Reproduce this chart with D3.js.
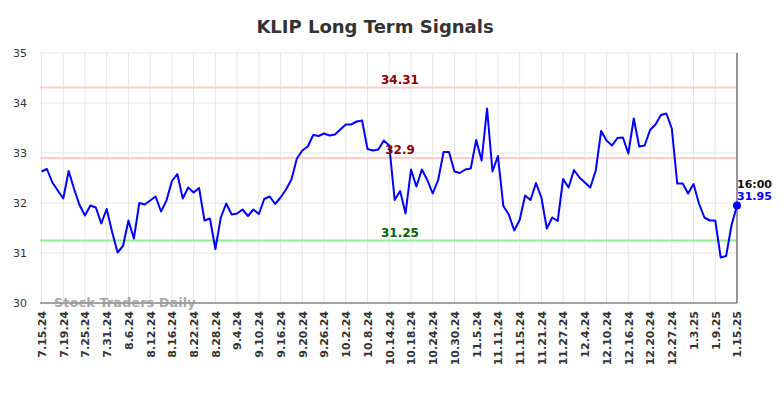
<!DOCTYPE html>
<html>
<head>
<meta charset="utf-8">
<script src="https://cdn.jsdelivr.net/npm/d3@7"></script>
<style>
  body { margin: 0; background: #fff; }
  svg { display: block; font-family: 'DejaVu Sans', sans-serif; }
</style>
</head>
<body>
<svg id="chart" width="784" height="398"></svg>
<script>
const dates = [
  '7.15.24', '7.16.24', '7.17.24', '7.18.24', '7.19.24', '7.22.24', '7.23.24', '7.24.24', '7.25.24', '7.26.24',
  '7.29.24', '7.30.24', '7.31.24',
  '8.1.24', '8.2.24', '8.5.24', '8.6.24', '8.7.24', '8.8.24', '8.9.24', '8.12.24', '8.13.24', '8.14.24',
  '8.15.24', '8.16.24', '8.19.24', '8.20.24', '8.21.24', '8.22.24', '8.23.24', '8.26.24', '8.27.24', '8.28.24',
  '8.29.24', '8.30.24',
  '9.3.24', '9.4.24', '9.5.24', '9.6.24', '9.9.24', '9.10.24', '9.11.24', '9.12.24', '9.13.24', '9.16.24',
  '9.17.24', '9.18.24', '9.19.24', '9.20.24', '9.23.24', '9.24.24', '9.25.24', '9.26.24', '9.27.24', '9.30.24',
  '10.1.24', '10.2.24', '10.3.24', '10.4.24', '10.7.24', '10.8.24', '10.9.24', '10.10.24', '10.11.24', '10.14.24',
  '10.15.24', '10.16.24', '10.17.24', '10.18.24', '10.21.24', '10.22.24', '10.23.24', '10.24.24', '10.25.24',
  '10.28.24', '10.29.24', '10.30.24', '10.31.24',
  '11.1.24', '11.4.24', '11.5.24', '11.6.24', '11.7.24', '11.8.24', '11.11.24', '11.12.24', '11.13.24', '11.14.24',
  '11.15.24', '11.18.24', '11.19.24', '11.20.24', '11.21.24', '11.22.24', '11.25.24', '11.26.24', '11.27.24', '11.29.24',
  '12.2.24', '12.3.24', '12.4.24', '12.5.24', '12.6.24', '12.9.24', '12.10.24', '12.11.24', '12.12.24', '12.13.24',
  '12.16.24', '12.17.24', '12.18.24', '12.19.24', '12.20.24', '12.23.24', '12.24.24', '12.26.24', '12.27.24',
  '12.30.24', '12.31.24',
  '1.2.25', '1.3.25', '1.6.25', '1.7.25', '1.8.25', '1.9.25', '1.10.25', '1.13.25', '1.14.25', '1.15.25'
];

const prices = [
  32.63, 32.68, 32.41, 32.25, 32.09, 32.64, 32.28, 31.96, 31.75, 31.95,
  31.91, 31.59, 31.88, 31.42, 31.01, 31.14, 31.65, 31.29, 32.0, 31.97,
  32.05, 32.13, 31.83, 32.05, 32.44, 32.58, 32.09, 32.31, 32.21, 32.3,
  31.65, 31.69, 31.08, 31.71, 31.99, 31.77, 31.79, 31.87, 31.74, 31.87,
  31.78, 32.08, 32.13, 31.98, 32.11, 32.27, 32.47, 32.89, 33.05, 33.13,
  33.36, 33.34, 33.39, 33.35, 33.37, 33.47, 33.57, 33.57, 33.63, 33.65,
  33.08, 33.05, 33.07, 33.25, 33.15, 32.06, 32.24, 31.79, 32.67, 32.33,
  32.67, 32.46, 32.19, 32.46, 33.02, 33.02, 32.63, 32.6, 32.67, 32.69,
  33.26, 32.85, 33.89, 32.63, 32.94, 31.94, 31.77, 31.45, 31.66, 32.15,
  32.06, 32.4, 32.11, 31.49, 31.71, 31.64, 32.48, 32.31, 32.66, 32.51,
  32.41, 32.31, 32.65, 33.44, 33.25, 33.15, 33.3, 33.31, 32.99, 33.69,
  33.13, 33.15, 33.46, 33.57, 33.76, 33.79, 33.49, 32.39, 32.39, 32.19,
  32.38, 31.99, 31.71, 31.65, 31.65, 30.91, 30.94, 31.56, 31.95
];

const tickLabels = [
  '7.15.24', '7.19.24', '7.25.24', '7.31.24', '8.6.24', '8.12.24', '8.16.24', '8.22.24', '8.28.24',
  '9.4.24', '9.10.24', '9.16.24', '9.20.24', '9.26.24', '10.2.24', '10.8.24', '10.14.24', '10.18.24',
  '10.24.24', '10.30.24', '11.5.24', '11.11.24', '11.15.24', '11.21.24', '11.27.24', '12.4.24',
  '12.10.24', '12.16.24', '12.20.24', '12.27.24', '1.3.25', '1.9.25', '1.15.25'
];

const yTicks = [30, 31, 32, 33, 34, 35];

const resistanceLevels = [34.31, 32.9];
const supportLevels = [31.25];

const lastTime = '16:00';

const svg = d3.select('#chart');

const plotLeft = 40;
const plotRight = 737;
const plotTop = 53;
const plotBottom = 303;

const x = d3
  .scaleLinear()
  .domain([0, dates.length - 1])
  .range([plotLeft + 1.5, plotRight]);

const y = d3
  .scaleLinear()
  .domain([30, 35])
  .range([plotBottom, plotTop]);

// title
svg
  .append('text')
  .attr('x', 375)
  .attr('y', 33)
  .attr('text-anchor', 'middle')
  .attr('font-size', 18)
  .attr('font-weight', 'bold')
  .attr('fill', '#333')
  .text('KLIP Long Term Signals');

// grid
const tickIdx = tickLabels.map(t => dates.indexOf(t));

svg
  .append('g')
  .selectAll('line')
  .data(tickIdx)
  .join('line')
  .attr('x1', d => x(d))
  .attr('x2', d => x(d))
  .attr('y1', plotTop)
  .attr('y2', plotBottom)
  .attr('stroke', '#e6e6e6')
  .attr('stroke-width', 1);

svg
  .append('g')
  .selectAll('line')
  .data(yTicks)
  .join('line')
  .attr('x1', plotLeft)
  .attr('x2', plotRight)
  .attr('y1', d => y(d))
  .attr('y2', d => y(d))
  .attr('stroke', '#e6e6e6')
  .attr('stroke-width', 1);

// y axis labels
const yAxis = svg
  .append('g')
  .attr('transform', `translate(${plotLeft - 13}, 0)`)
  .call(
    d3
      .axisLeft(y)
      .tickValues(yTicks)
      .tickFormat(d3.format('d'))
      .tickSize(0)
      .tickPadding(0)
  );

yAxis.select('.domain').remove();
yAxis
  .selectAll('.tick text')
  .attr('font-family', 'DejaVu Sans')
  .attr('font-size', 11)
  .attr('fill', '#333');

// x axis labels
const xAxis = svg
  .append('g')
  .attr('transform', `translate(0, ${plotBottom})`)
  .call(
    d3
      .axisBottom(x)
      .tickValues(tickIdx)
      .tickFormat(i => dates[i])
      .tickSize(0)
  );

xAxis.select('.domain').remove();
xAxis
  .selectAll('.tick text')
  .attr('font-family', 'DejaVu Sans')
  .attr('font-size', 11)
  .attr('font-weight', 'bold')
  .attr('fill', '#333')
  .attr('text-anchor', 'end')
  .attr('transform', 'rotate(-90)')
  .attr('x', -8)
  .attr('y', 0)
  .attr('dy', '0.35em');

// signal lines
svg
  .append('g')
  .selectAll('line')
  .data(resistanceLevels)
  .join('line')
  .attr('x1', plotLeft)
  .attr('x2', plotRight)
  .attr('y1', d => y(d))
  .attr('y2', d => y(d))
  .attr('stroke', '#ffcccc')
  .attr('stroke-width', 2);

svg
  .append('g')
  .selectAll('line')
  .data(supportLevels)
  .join('line')
  .attr('x1', plotLeft)
  .attr('x2', plotRight)
  .attr('y1', d => y(d))
  .attr('y2', d => y(d))
  .attr('stroke', '#90ee90')
  .attr('stroke-width', 2);

// axis frame
svg
  .append('line')
  .attr('x1', plotLeft)
  .attr('x2', plotRight)
  .attr('y1', plotBottom)
  .attr('y2', plotBottom)
  .attr('stroke', '#555')
  .attr('stroke-width', 1);

svg
  .append('line')
  .attr('x1', plotRight)
  .attr('x2', plotRight)
  .attr('y1', plotTop)
  .attr('y2', plotBottom)
  .attr('stroke', '#777')
  .attr('stroke-width', 1.5);

// watermark
svg
  .append('text')
  .attr('x', 54)
  .attr('y', 307)
  .attr('font-size', 13)
  .attr('font-weight', 'bold')
  .attr('fill', '#999')
  .attr('fill-opacity', 0.85)
  .text('Stock Traders Daily');

// price line
const line = d3
  .line()
  .x((d, i) => x(i))
  .y(d => y(d));

svg
  .append('path')
  .datum(prices)
  .attr('fill', 'none')
  .attr('stroke', '#0000ff')
  .attr('stroke-width', 2)
  .attr('stroke-linejoin', 'round')
  .attr('d', line);

// level labels
svg
  .append('g')
  .selectAll('text')
  .data(resistanceLevels)
  .join('text')
  .attr('x', 400)
  .attr('y', d => y(d) - 4)
  .attr('text-anchor', 'middle')
  .attr('font-size', 12)
  .attr('font-weight', 'bold')
  .attr('fill', '#8b0000')
  .text(d => d);

svg
  .append('g')
  .selectAll('text')
  .data(supportLevels)
  .join('text')
  .attr('x', 400)
  .attr('y', d => y(d) - 4)
  .attr('text-anchor', 'middle')
  .attr('font-size', 12)
  .attr('font-weight', 'bold')
  .attr('fill', '#006400')
  .text(d => d);

// last point
const lastI = prices.length - 1;
const lastV = prices[lastI];

svg
  .append('circle')
  .attr('cx', x(lastI))
  .attr('cy', y(lastV))
  .attr('r', 4)
  .attr('fill', '#0000ff');

svg
  .append('text')
  .attr('x', x(lastI))
  .attr('y', y(lastV) - 18)
  .attr('font-size', 11)
  .attr('font-weight', 'bold')
  .attr('fill', '#111')
  .text(lastTime);

svg
  .append('text')
  .attr('x', x(lastI))
  .attr('y', y(lastV) - 6)
  .attr('font-size', 11)
  .attr('font-weight', 'bold')
  .attr('fill', '#0000ff')
  .text(lastV);
</script>
</body>
</html>
